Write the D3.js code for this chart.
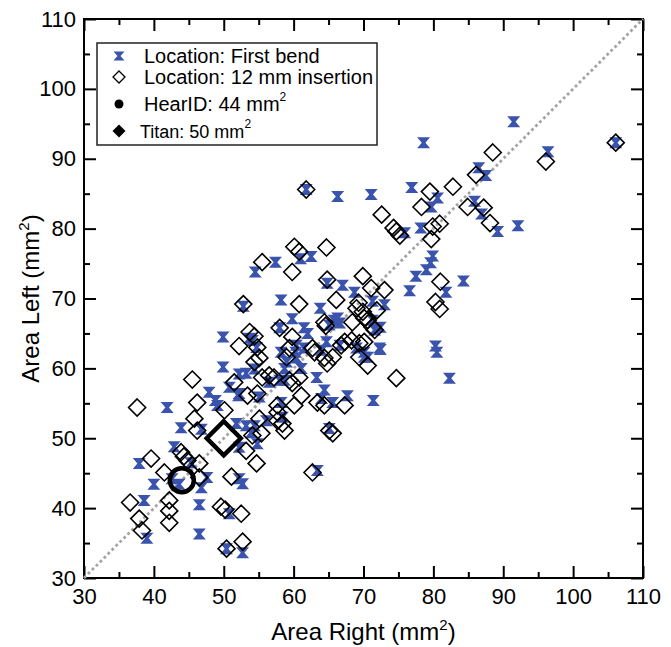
<!DOCTYPE html>
<html>
<head>
<meta charset="utf-8">
<script src="https://cdn.jsdelivr.net/npm/d3@7"></script>
<style>
  html, body { margin: 0; padding: 0; background: #fff; }
  svg { display: block; font-family: "Liberation Sans", Arial, Helvetica, sans-serif; }
</style>
</head>
<body>
<div id="chart"></div>
<script>
// [area right, area left] in mm^2
const firstBend = [
  [91.5, 95.3], [78.6, 92.3], [96.4, 91.0], [106.1, 92.3], [61.8, 85.6], [66.3, 84.6],
  [71.1, 84.9], [76.9, 85.9], [80.6, 84.4], [79.7, 83.1], [86.5, 88.7], [87.5, 87.6],
  [85.9, 83.9], [86.9, 82.1], [89.2, 79.6], [92.1, 80.4], [75.9, 79.4], [78.2, 80.1],
  [79.9, 76.1], [79.6, 75.1], [79.0, 74.1], [77.5, 73.2], [76.6, 71.1], [81.8, 70.9],
  [84.3, 72.5], [80.3, 63.2], [80.5, 62.3], [82.3, 58.6], [71.4, 55.4], [64.8, 72.2],
  [67.0, 71.9], [68.7, 70.9], [71.3, 69.6], [73.0, 69.1], [71.3, 66.9], [72.4, 65.9],
  [72.4, 62.7], [70.1, 61.6], [63.8, 68.6], [65.8, 66.9], [65.1, 66.2], [71.6, 65.5],
  [61.0, 75.7], [62.5, 76.0], [57.4, 75.2], [54.5, 73.8], [52.8, 68.9], [58.2, 69.8],
  [59.8, 67.1], [58.0, 65.8], [61.5, 65.8], [62.0, 65.0], [49.9, 64.5], [53.7, 64.3],
  [66.3, 67.2], [66.6, 66.5], [54.1, 64.0], [54.7, 63.0], [58.2, 62.3], [60.4, 63.3],
  [60.3, 62.3], [60.4, 61.5], [61.5, 62.9], [64.0, 62.6], [64.7, 63.8], [66.6, 63.3],
  [69.0, 62.9], [70.1, 62.3], [70.6, 61.6], [72.3, 62.9], [59.0, 60.9], [58.7, 60.0],
  [61.1, 60.0], [54.4, 59.9], [49.9, 60.2], [52.2, 59.2], [53.2, 59.3], [63.3, 58.7],
  [56.5, 58.0], [58.0, 58.3], [58.7, 58.3], [47.9, 56.6], [48.8, 55.4], [50.8, 57.3],
  [52.2, 56.4], [64.4, 56.9], [64.0, 55.7], [65.6, 55.1], [67.7, 56.1], [58.2, 55.1],
  [58.4, 53.0], [56.1, 52.5], [54.4, 51.8], [51.8, 52.1], [53.2, 51.8], [49.1, 54.7],
  [41.9, 54.4], [43.9, 51.5], [46.8, 51.3], [65.1, 51.4], [54.8, 49.2], [52.2, 48.7],
  [42.9, 48.8], [45.3, 46.5], [37.9, 46.4], [42.6, 44.2], [43.6, 43.4], [47.6, 44.4],
  [46.8, 42.9], [52.2, 44.2], [52.7, 43.5], [40.0, 43.4], [38.6, 41.1], [46.5, 40.5],
  [50.8, 39.2], [39.0, 35.7], [46.5, 36.3], [50.4, 34.2], [52.7, 33.6], [63.4, 45.4],
  [53.9, 50.8], [55.1, 55.9], [52.1, 56.1]
];

const insertion12mm = [
  [88.5, 90.9], [96.1, 89.6], [106.1, 92.3], [61.8, 85.6], [82.8, 86.0], [79.5, 85.3],
  [86.1, 87.7], [78.3, 83.1], [84.9, 83.1], [87.2, 83.0], [88.1, 80.8], [72.6, 82.0],
  [74.3, 80.1], [74.7, 79.6], [75.2, 79.0], [79.9, 80.3], [80.9, 80.7], [79.7, 78.5],
  [81.0, 72.4], [80.3, 69.5], [80.9, 68.5], [74.7, 58.6], [69.9, 73.2], [71.1, 71.5],
  [73.0, 71.2], [71.6, 65.5], [70.1, 63.8], [70.6, 60.4], [64.7, 77.3], [64.8, 72.7],
  [66.1, 69.8], [69.3, 69.4], [71.9, 68.3], [64.4, 66.6], [70.1, 67.2], [60.1, 77.4],
  [60.8, 76.7], [55.5, 75.2], [59.8, 73.8], [52.8, 69.2], [60.8, 69.2], [58.0, 65.8],
  [64.6, 66.1], [54.4, 64.6], [52.2, 63.2], [54.8, 63.0], [55.1, 61.5], [45.5, 58.4],
  [56.5, 59.0], [51.5, 58.0], [53.4, 56.1], [54.8, 56.4], [46.2, 55.1], [50.1, 54.0],
  [37.6, 54.4], [45.8, 52.8], [46.2, 51.1], [57.7, 52.5], [58.7, 51.1], [55.4, 50.7],
  [54.1, 50.4], [53.2, 48.2], [54.7, 46.4], [43.9, 48.0], [44.3, 47.4], [44.8, 46.8],
  [39.6, 47.1], [41.5, 45.1], [46.5, 44.4], [51.1, 44.5], [36.6, 40.8], [42.2, 41.1],
  [42.2, 39.6], [37.9, 38.5], [38.3, 36.8], [42.2, 37.9], [49.6, 40.2], [50.2, 39.8],
  [52.5, 39.2], [50.4, 34.2], [52.7, 35.2], [65.1, 51.1], [65.6, 50.7], [62.7, 45.1],
  [59.8, 64.5], [59.4, 62.9], [59.0, 61.6], [62.7, 62.9], [63.0, 62.3], [64.4, 61.5],
  [64.8, 60.7], [65.6, 61.6], [67.3, 63.8], [66.8, 63.3], [68.3, 64.0], [69.4, 63.6],
  [69.4, 61.6], [69.0, 68.6], [69.9, 68.1], [70.6, 66.9], [71.3, 65.9], [68.4, 66.6],
  [53.7, 65.2], [55.5, 58.7], [54.4, 60.9], [57.2, 58.7], [59.4, 58.3], [59.8, 57.9],
  [60.8, 58.7], [61.1, 56.1], [63.4, 55.1], [64.4, 54.7], [67.3, 54.7], [60.1, 54.7],
  [57.7, 54.7], [57.7, 53.7], [58.4, 52.1], [55.1, 52.8], [46.5, 46.4]
];

// reference devices (same area both sides)
const hearId = [[44, 44]];
const titan = [[50, 50]];
const identityLine = [[30, 30], [110, 110]];

const axisDomain = [30, 110];
const majorTicks = [30, 40, 50, 60, 70, 80, 90, 100, 110];
const minorTicks = [35, 45, 55, 65, 75, 85, 95, 105];

const BLUE = '#3a54ad';
const FONT = '"Liberation Sans", Arial, Helvetica, sans-serif';

/**
 * Hourglass marker path (two triangles tip to tip), centred on 0,0
 */
function hourglass(w, h) {
  const a = w / 2, b = h / 2, c = w * 0.14;
  return `M${-a},${-b}H${a}L${c},0L${a},${b}H${-a}L${-c},0Z`;
}

function diamond(r) {
  return `M0,${-r}L${r},0L0,${r}L${-r},0Z`;
}

// Set up dimensions
const width = 671, height = 647;
const margin = { top: 19, right: 28, bottom: 69, left: 84 };
const plotW = width - margin.left - margin.right;
const plotH = height - margin.top - margin.bottom;

const svg = d3.select('#chart')
  .append('svg')
  .attr('width', width)
  .attr('height', height);

const g = svg.append('g')
  .attr('transform', `translate(${margin.left},${margin.top})`);

const x = d3.scaleLinear().domain(axisDomain).range([0, plotW]);
const y = d3.scaleLinear().domain(axisDomain).range([plotH, 0]);

// Axes: ticks point inward on all four sides
function styleAxis(sel) {
  sel.select('.domain').remove();
  sel.selectAll('line').attr('stroke', '#000').attr('stroke-width', 2);
  sel.selectAll('text').attr('font-size', 22).attr('fill', '#000').attr('font-family', FONT);
}

const xMajor = g.append('g').attr('transform', `translate(0,${plotH})`)
  .call(d3.axisBottom(x).tickValues(majorTicks).tickSizeInner(-12).tickSizeOuter(0).tickPadding(10));
styleAxis(xMajor);
const xMinor = g.append('g').attr('transform', `translate(0,${plotH})`)
  .call(d3.axisBottom(x).tickValues(minorTicks).tickSize(-6).tickFormat(''));
styleAxis(xMinor);

const yMajor = g.append('g')
  .call(d3.axisLeft(y).tickValues(majorTicks).tickSizeInner(-12).tickSizeOuter(0).tickPadding(8));
styleAxis(yMajor);
const yMinor = g.append('g')
  .call(d3.axisLeft(y).tickValues(minorTicks).tickSize(-6).tickFormat(''));
styleAxis(yMinor);

// mirrored ticks on top and right
const topMajor = g.append('g').call(d3.axisTop(x).tickValues(majorTicks).tickSize(-12).tickFormat(''));
const topMinor = g.append('g').call(d3.axisTop(x).tickValues(minorTicks).tickSize(-6).tickFormat(''));
const rightMajor = g.append('g').attr('transform', `translate(${plotW},0)`)
  .call(d3.axisRight(y).tickValues(majorTicks).tickSize(-12).tickFormat(''));
const rightMinor = g.append('g').attr('transform', `translate(${plotW},0)`)
  .call(d3.axisRight(y).tickValues(minorTicks).tickSize(-6).tickFormat(''));
[topMajor, topMinor, rightMajor, rightMinor].forEach(styleAxis);

// Plot frame
g.append('rect')
  .attr('x', 0).attr('y', 0)
  .attr('width', plotW).attr('height', plotH)
  .attr('fill', 'none')
  .attr('stroke', '#000')
  .attr('stroke-width', 2);

// Identity line
g.append('path')
  .datum(identityLine)
  .attr('d', d3.line().x(d => x(d[0])).y(d => y(d[1])))
  .attr('fill', 'none')
  .attr('stroke', '#a3a3a3')
  .attr('stroke-width', 2.8)
  .attr('stroke-dasharray', '2.8,2.8');

// First bend markers
g.append('g').selectAll('path')
  .data(firstBend)
  .join('path')
  .attr('transform', d => `translate(${x(d[0])},${y(d[1])})`)
  .attr('d', hourglass(13, 11))
  .attr('fill', BLUE);

// 12 mm insertion markers
g.append('g').selectAll('path')
  .data(insertion12mm)
  .join('path')
  .attr('transform', d => `translate(${x(d[0])},${y(d[1])})`)
  .attr('d', diamond(8.5))
  .attr('fill', 'none')
  .attr('stroke', '#000')
  .attr('stroke-width', 1.6);

// HearID and Titan
g.append('g').selectAll('circle')
  .data(hearId)
  .join('circle')
  .attr('cx', d => x(d[0]))
  .attr('cy', d => y(d[1]))
  .attr('r', 12)
  .attr('fill', 'none')
  .attr('stroke', '#000')
  .attr('stroke-width', 4.5);

g.append('g').selectAll('path')
  .data(titan)
  .join('path')
  .attr('transform', d => `translate(${x(d[0])},${y(d[1])})`)
  .attr('d', diamond(17))
  .attr('fill', 'none')
  .attr('stroke', '#000')
  .attr('stroke-width', 4.5);

// Axis titles
const xTitle = svg.append('text')
  .attr('x', margin.left + plotW / 2)
  .attr('y', 640)
  .attr('text-anchor', 'middle')
  .attr('font-size', 24);
xTitle.append('tspan').text('Area Right (mm');
xTitle.append('tspan').attr('font-size', 15).attr('dy', -10).text('2');
xTitle.append('tspan').attr('dy', 10).text(')');

const yTitle = svg.append('text')
  .attr('transform', `translate(39,${margin.top + plotH / 2}) rotate(-90)`)
  .attr('text-anchor', 'middle')
  .attr('font-size', 24);
yTitle.append('tspan').text('Area Left (mm');
yTitle.append('tspan').attr('font-size', 15).attr('dy', -10).text('2');
yTitle.append('tspan').attr('dy', 10).text(')');

// Legend
const legend = svg.append('g');
legend.append('rect')
  .attr('x', 97).attr('y', 43)
  .attr('width', 280).attr('height', 102)
  .attr('fill', '#fff')
  .attr('stroke', '#222')
  .attr('stroke-width', 1.5);

const legendItems = [
  { label: 'Location: First bend', sup: '', cy: 56, tx: 144, size: 20 },
  { label: 'Location: 12 mm insertion', sup: '', cy: 77, tx: 144, size: 20 },
  { label: 'HearID: 44 mm', sup: '2', cy: 104, tx: 144, size: 20 },
  { label: 'Titan: 50 mm', sup: '2', cy: 131, tx: 140, size: 18 }
];

const markers = [
  sel => sel.append('path').attr('d', hourglass(11, 9)).attr('fill', BLUE),
  sel => sel.append('path').attr('d', diamond(6)).attr('fill', 'none').attr('stroke', '#000').attr('stroke-width', 1.3),
  sel => sel.append('circle').attr('r', 4.5).attr('fill', '#000'),
  sel => sel.append('path').attr('d', diamond(6.5)).attr('fill', '#000')
];

legendItems.forEach((item, i) => {
  const m = legend.append('g').attr('transform', `translate(119,${item.cy})`);
  markers[i](m);
  const t = legend.append('text')
    .attr('x', item.tx)
    .attr('y', item.cy + 7)
    .attr('font-size', item.size);
  t.append('tspan').text(item.label);
  if (item.sup) {
    t.append('tspan').attr('font-size', 12).attr('dy', -10).text(item.sup);
  }
});
</script>
</body>
</html>
